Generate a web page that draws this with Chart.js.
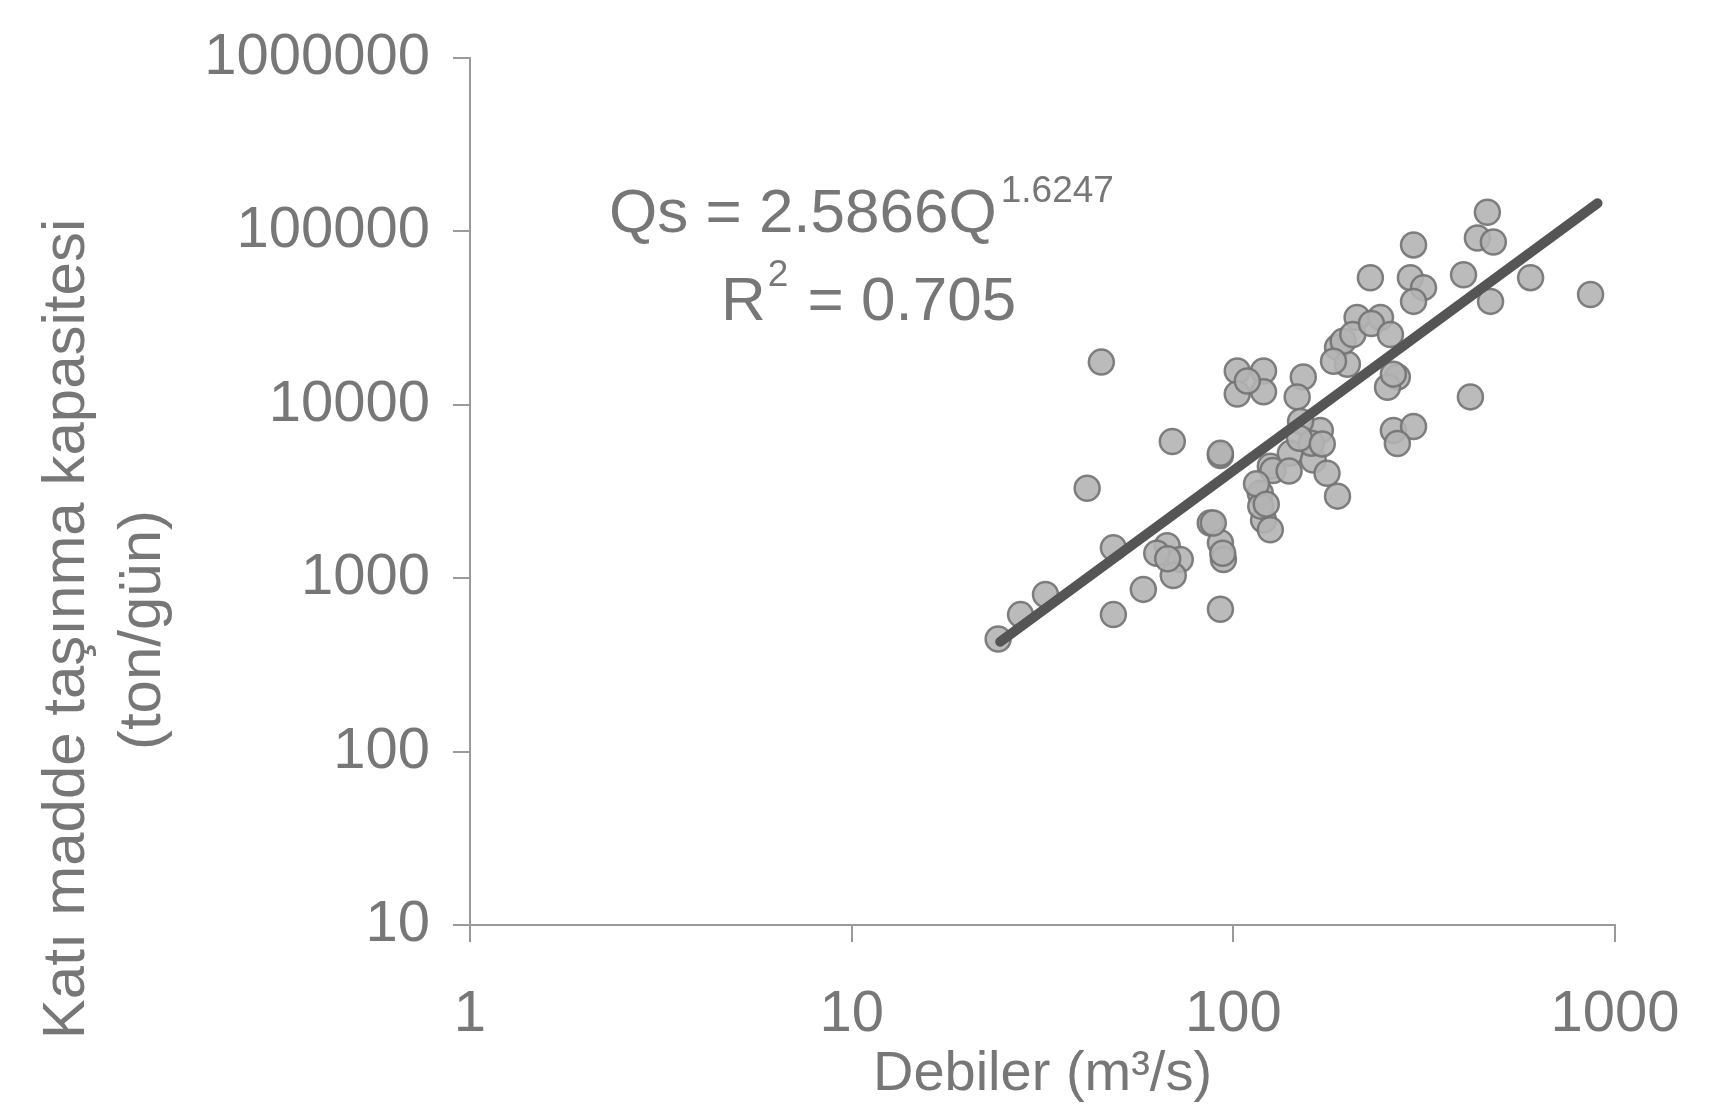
<!DOCTYPE html>
<html>
<head>
<meta charset="utf-8">
<title>Debiler - Katı madde taşınma kapasitesi</title>
<script src="https://cdn.jsdelivr.net/npm/chart.js@4.4.1/dist/chart.umd.min.js"></script>
<style>
  html, body { margin: 0; padding: 0; background: #fff; }
  #wrap { width: 1727px; height: 1114px; }
</style>
</head>
<body>
<div id="wrap"><canvas id="sedChart" width="1727" height="1114"></canvas></div>
<script>
// debi (m3/s) - katı madde (ton/gün), resimden okunan noktalar
var debi = [
  24.2, 27.7, 32.2, 41.4, 45.1, 48.5, 48.5, 58.1, 67.1, 72.6,
  69.6, 69.2, 63, 87, 92.5, 94.2, 92.5, 92.5, 92.5, 88.6,
  117.7, 120, 125, 125, 118, 102.4, 120, 102.4, 120, 108.8,
  152.5, 147, 187.5, 199, 269, 253.5, 262.6, 296.6, 269, 418,
  169, 141, 162, 127, 176, 187.5, 463, 436, 480, 296.6,
  228.6, 291, 315, 296.6, 401, 601, 472, 863, 211, 243,
  194, 183, 262.6, 150, 160, 115, 149, 171, 140, 205.6,
  230, 258, 122, 93.8, 67.3
];
var katiMadde = [
  446, 616, 805, 3300, 17600, 616, 1496, 861, 1538, 1280,
  1035, 6140, 1390, 2080, 1600, 1280, 661, 5090, 5240, 2080,
  3090, 2160, 1900, 4420, 2600, 15630, 15630, 11530, 11860, 13700,
  14450, 11090, 21400, 17100, 14450, 12600, 7100, 7480, 5970, 11090,
  7100, 5240, 4790, 4170, 4020, 2970, 128800, 91400, 86700, 83400,
  53900, 54000, 47300, 39400, 56100, 54000, 39400, 43200, 31800, 31800,
  23200, 17800, 15000, 8000, 6000, 3500, 6400, 5940, 4140, 25400,
  29400, 25400, 2670, 1390, 1294
];

// eğilim çizgisi uçları (resimden)
var trendDebi = [24.5, 900];
var trendKati = [430, 145000];

var xTicks = [1, 10, 100, 1000];
var yTicks = [10, 100, 1000, 10000, 100000, 1000000];

var xTitle = 'Debiler (m³/s)';
var yTitle = ['Katı madde taşınma kapasitesi', '(ton/gün)'];
var eqMain = 'Qs = 2.5866Q';
var eqExp = '1.6247';
var r2Label = 'R';
var r2Exp = '2';
var r2Value = ' = 0.705';

var textGray = '#777777';
var axisGray = '#9a9a9a';

var points = debi.map(function(q, i) { return { x: q, y: katiMadde[i] }; });
var trend = trendDebi.map(function(q, i) { return { x: q, y: trendKati[i] }; });

// y ekseni başlığı ve denklem yazısı
var textPlugin = {
  id: 'textPlugin',
  afterDraw: function(chart) {
    var ctx = chart.ctx;
    ctx.save();
    ctx.fillStyle = textGray;
    ctx.textBaseline = 'middle';

    // y title
    ctx.save();
    ctx.translate(67, 629);
    ctx.rotate(-Math.PI / 2);
    ctx.textAlign = 'center';
    ctx.font = '60px "Liberation Sans", Arial, sans-serif';
    ctx.fillText(yTitle[0], 0, 0);
    ctx.restore();
    ctx.save();
    ctx.translate(143, 630);
    ctx.rotate(-Math.PI / 2);
    ctx.textAlign = 'center';
    ctx.font = '60px "Liberation Sans", Arial, sans-serif';
    ctx.fillText(yTitle[1], 0, 0);
    ctx.restore();

    // denklem
    ctx.textAlign = 'left';
    var big = '62px "Liberation Sans", Arial, sans-serif';
    var small = '37px "Liberation Sans", Arial, sans-serif';
    ctx.font = big;
    var x0 = 609;
    ctx.fillText(eqMain, x0, 215);
    var w = ctx.measureText(eqMain).width;
    ctx.font = small;
    ctx.fillText(eqExp, x0 + w + 4, 192);

    var x1 = 721;
    ctx.font = big;
    ctx.fillText(r2Label, x1, 303);
    var wr = ctx.measureText(r2Label).width;
    ctx.font = small;
    ctx.fillText(r2Exp, x1 + wr + 2, 276);
    var w2 = ctx.measureText(r2Exp).width;
    ctx.font = big;
    ctx.fillText(r2Value, x1 + wr + w2 + 4, 303);
    ctx.restore();
  }
};

var ctx = document.getElementById('sedChart').getContext('2d');
var chart = new Chart(ctx, {
  type: 'scatter',
  data: {
    datasets: [
      {
        type: 'line',
        label: 'trend',
        data: trend,
        borderColor: '#555555',
        borderWidth: 10,
        borderCapStyle: 'round',
        pointRadius: 0,
        fill: false
      },
      {
        label: 'ölçüm',
        data: points,
        pointRadius: 12.5,
        pointBackgroundColor: 'rgba(180,180,180,0.9)',
        pointBorderColor: 'rgba(115,115,115,0.9)',
        pointBorderWidth: 2.5
      }
    ]
  },
  options: {
    responsive: false,
    animation: false,
    devicePixelRatio: 1,
    layout: { padding: { top: 52, right: 112, left: 0, bottom: 0 } },
    plugins: {
      legend: { display: false },
      tooltip: { enabled: false }
    },
    scales: {
      x: {
        type: 'logarithmic',
        min: 1,
        max: 1000,
        afterBuildTicks: function(axis) {
          axis.ticks = xTicks.map(function(v) { return { value: v }; });
        },
        afterFit: function(scale) { scale.height = 189; },
        grid: { drawOnChartArea: false, drawTicks: true, tickLength: 17, color: axisGray, lineWidth: 2 },
        border: { display: true, color: axisGray, width: 2 },
        ticks: {
          autoSkip: false,
          maxRotation: 0,
          padding: 38,
          color: textGray,
          font: { family: '"Liberation Sans", Arial, sans-serif', size: 58 },
          callback: function(v) { return String(v); }
        },
        title: {
          display: true,
          text: xTitle,
          color: textGray,
          padding: { top: 0, bottom: 6 },
          font: { family: '"Liberation Sans", Arial, sans-serif', size: 56 }
        }
      },
      y: {
        type: 'logarithmic',
        min: 10,
        max: 1000000,
        afterBuildTicks: function(axis) {
          axis.ticks = yTicks.map(function(v) { return { value: v }; });
        },
        afterFit: function(scale) { scale.width = 470; },
        grid: { drawOnChartArea: false, drawTicks: true, tickLength: 17, color: axisGray, lineWidth: 2 },
        border: { display: true, color: axisGray, width: 2 },
        ticks: {
          autoSkip: false,
          padding: 23,
          color: textGray,
          font: { family: '"Liberation Sans", Arial, sans-serif', size: 58 },
          callback: function(v) { return String(v); }
        }
      }
    }
  },
  plugins: [textPlugin]
});
</script>
</body>
</html>
